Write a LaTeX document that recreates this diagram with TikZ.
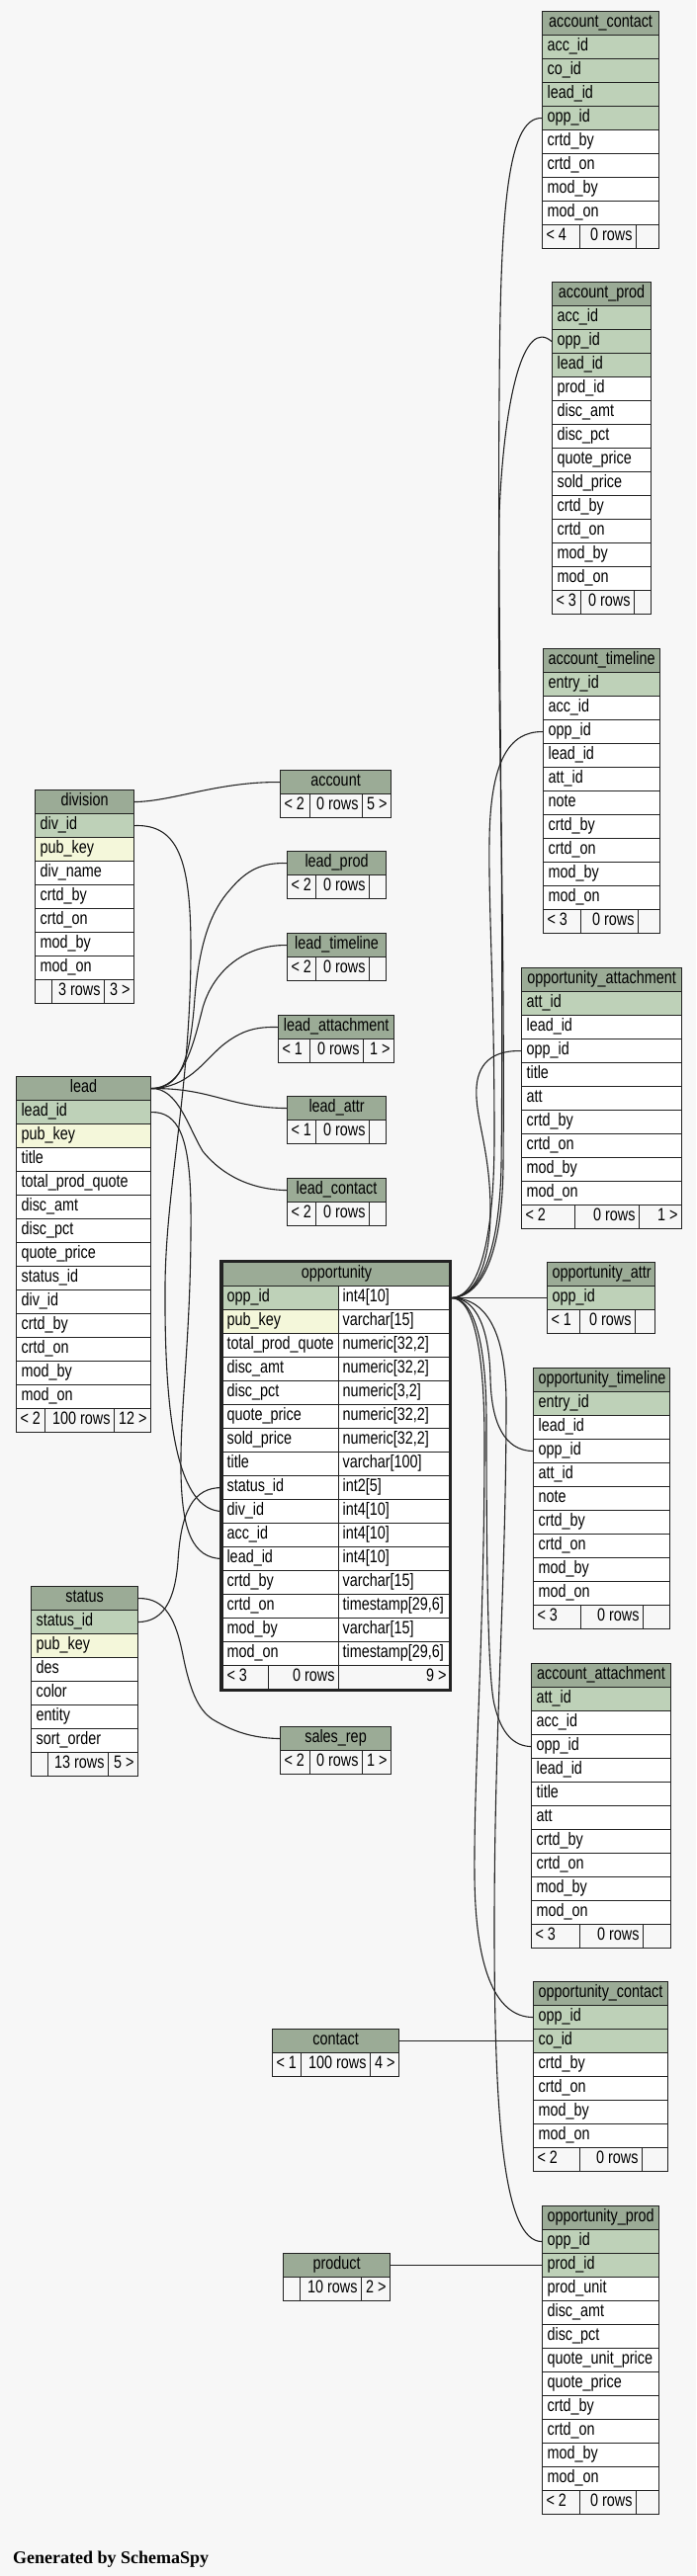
\documentclass[tikz,border=0pt]{standalone}
\usepackage{fontspec}
\setmainfont{Liberation Sans}[FakeStretch=0.8]
\newfontfamily\genfont{Liberation Serif}
\usetikzlibrary{backgrounds}
\definecolor{bgc}{HTML}{F7F7F7}
\definecolor{ttlc}{HTML}{9BAB96}
\definecolor{pkc}{HTML}{BED1B8}
\definecolor{idxc}{HTML}{F4F7DA}
\definecolor{linec}{HTML}{222222}
\newcommand\tfont{\fontsize{18pt}{20pt}\selectfont}
\tikzset{
  cell/.style={draw=linec, line width=1.1pt, rectangle, anchor=north west, inner xsep=5pt, inner ysep=0pt,
    minimum height=24pt, text height=12pt, text depth=5pt, font=\tfont, align=left},
  ttlcell/.style={cell, fill=ttlc, align=center},
  rowpk/.style={cell, fill=pkc},
  rowidx/.style={cell, fill=idxc},
  rowplain/.style={cell, fill=white},
  ftcell/.style={cell, fill=bgc, inner xsep=4pt},
  edge/.style={draw=linec, line width=1.1pt},
}
% #1 name, #2 x, #3 y, #4 width, #5 title, #6 rows
\newcommand\mktable[6]{%
  \pgfmathsetmacro\tw{#4-10}%
  \node[ttlcell, minimum width=#4pt, text width=\tw pt] (#1) at (#2,#3) {#5};
  \foreach \k/\c [count=\i] in {#6} {
    \node[\k, minimum width=#4pt, text width=\tw pt] (#1-\c) at (#2,#3+24*\i) {\c};
  }%
}
\newcommand\mksmall[5]{%
  \pgfmathsetmacro\tw{#4-10}%
  \node[ttlcell, minimum width=#4pt, text width=\tw pt] (#1) at (#2,#3) {#5};
}
% #1 name, #2 y, #3 cells x1/x2/align(l|r)/text
\newcommand\mkfooter[3]{%
  \foreach \xa/\xb/\st/\tx [count=\j] in {#3} {
    \pgfmathsetmacro\fw{\xb-\xa}%
    \pgfmathsetmacro\ftw{\xb-\xa-8}%
    \node[ftcell, minimum width=\fw pt] (#1-f\j) at (\xa,#2) {\makebox[\ftw pt][\st]{\tx}};
  }%
}
\begin{document}
\catcode`\_=12
\begin{tikzpicture}[x=1pt,y=-1pt]
\useasboundingbox (0,0) rectangle (704,2607);

% ---------- right column tables ----------
\mktable{ac}{548}{11}{118}{account_contact}{rowpk/acc_id, rowpk/co_id, rowpk/lead_id, rowpk/opp_id, rowplain/crtd_by, rowplain/crtd_on, rowplain/mod_by, rowplain/mod_on}
\mkfooter{ac}{227}{548/586/l/{< 4}, 586/643/r/{0 rows}, 643/666/r/{}}

\mktable{ap}{558}{285}{100}{account_prod}{rowpk/acc_id, rowpk/opp_id, rowpk/lead_id, rowplain/prod_id, rowplain/disc_amt, rowplain/disc_pct, rowplain/quote_price, rowplain/sold_price, rowplain/crtd_by, rowplain/crtd_on, rowplain/mod_by, rowplain/mod_on}
\mkfooter{ap}{597}{558/587/l/{< 3}, 587/641/r/{0 rows}, 641/658/r/{}}

\mktable{at}{549}{656}{118}{account_timeline}{rowpk/entry_id, rowplain/acc_id, rowplain/opp_id, rowplain/lead_id, rowplain/att_id, rowplain/note, rowplain/crtd_by, rowplain/crtd_on, rowplain/mod_by, rowplain/mod_on}
\mkfooter{at}{920}{549/587/l/{< 3}, 587/645/r/{0 rows}, 645/667/r/{}}

\mktable{oa}{527}{979}{162}{opportunity_attachment}{rowpk/att_id, rowplain/lead_id, rowplain/opp_id, rowplain/title, rowplain/att, rowplain/crtd_by, rowplain/crtd_on, rowplain/mod_by, rowplain/mod_on}
\mkfooter{oa}{1219}{527/581/l/{< 2}, 581/646/r/{0 rows}, 646/689/r/{1 >}}

\mktable{oat}{553}{1277}{109}{opportunity_attr}{rowpk/opp_id}
\mkfooter{oat}{1325}{553/586/l/{< 1}, 586/642/r/{0 rows}, 642/662/r/{}}

\mktable{ot}{539}{1384}{138}{opportunity_timeline}{rowpk/entry_id, rowplain/lead_id, rowplain/opp_id, rowplain/att_id, rowplain/note, rowplain/crtd_by, rowplain/crtd_on, rowplain/mod_by, rowplain/mod_on}
\mkfooter{ot}{1624}{539/587/l/{< 3}, 587/650/r/{0 rows}, 650/677/r/{}}

\mktable{aa}{537}{1683}{141}{account_attachment}{rowpk/att_id, rowplain/acc_id, rowplain/opp_id, rowplain/lead_id, rowplain/title, rowplain/att, rowplain/crtd_by, rowplain/crtd_on, rowplain/mod_by, rowplain/mod_on}
\mkfooter{aa}{1947}{537/586/l/{< 3}, 586/650/r/{0 rows}, 650/678/r/{}}

\mktable{oc}{539}{2005}{136}{opportunity_contact}{rowpk/opp_id, rowpk/co_id, rowplain/crtd_by, rowplain/crtd_on, rowplain/mod_by, rowplain/mod_on}
\mkfooter{oc}{2173}{539/586/l/{< 2}, 586/649/r/{0 rows}, 649/675/r/{}}

\mktable{op}{548}{2232}{118}{opportunity_prod}{rowpk/opp_id, rowpk/prod_id, rowplain/prod_unit, rowplain/disc_amt, rowplain/disc_pct, rowplain/quote_unit_price, rowplain/quote_price, rowplain/crtd_by, rowplain/crtd_on, rowplain/mod_by, rowplain/mod_on}
\mkfooter{op}{2520}{548/586/l/{< 2}, 586/643/r/{0 rows}, 643/666/r/{}}

% ---------- left column tables ----------
\mktable{div}{35}{799}{100}{division}{rowpk/div_id, rowidx/pub_key, rowplain/div_name, rowplain/crtd_by, rowplain/crtd_on, rowplain/mod_by, rowplain/mod_on}
\mkfooter{div}{991}{35/52/l/{}, 52/105/r/{3 rows}, 105/135/r/{3 >}}

\mktable{lead}{16}{1089}{136}{lead}{rowpk/lead_id, rowidx/pub_key, rowplain/title, rowplain/total_prod_quote, rowplain/disc_amt, rowplain/disc_pct, rowplain/quote_price, rowplain/status_id, rowplain/div_id, rowplain/crtd_by, rowplain/crtd_on, rowplain/mod_by, rowplain/mod_on}
\mkfooter{lead}{1425}{16/45/l/{< 2}, 45/115/r/{100 rows}, 115/152/r/{12 >}}

\mktable{status}{31}{1605}{108}{status}{rowpk/status_id, rowidx/pub_key, rowplain/des, rowplain/color, rowplain/entity, rowplain/sort_order}
\mkfooter{status}{1773}{31/48/l/{}, 48/109/r/{13 rows}, 109/139/r/{5 >}}

% ---------- compact tables ----------
\mksmall{acct}{283}{779}{112}{account}
\mkfooter{acct}{803}{283/313/l/{< 2}, 313/366/r/{0 rows}, 366/395/r/{5 >}}
\mksmall{lprod}{290}{861}{100}{lead_prod}
\mkfooter{lprod}{885}{290/319/l/{< 2}, 319/373/r/{0 rows}, 373/390/r/{}}
\mksmall{ltime}{290}{944}{100}{lead_timeline}
\mkfooter{ltime}{968}{290/319/l/{< 2}, 319/373/r/{0 rows}, 373/390/r/{}}
\mksmall{latt}{281}{1027}{117}{lead_attachment}
\mkfooter{latt}{1051}{281/313/l/{< 1}, 313/367/r/{0 rows}, 367/398/r/{1 >}}
\mksmall{lattr}{290}{1109}{100}{lead_attr}
\mkfooter{lattr}{1133}{290/319/l/{< 1}, 319/373/r/{0 rows}, 373/390/r/{}}
\mksmall{lcont}{290}{1192}{100}{lead_contact}
\mkfooter{lcont}{1216}{290/319/l/{< 2}, 319/373/r/{0 rows}, 373/390/r/{}}
\mksmall{srep}{283}{1747}{112}{sales_rep}
\mkfooter{srep}{1771}{283/313/l/{< 2}, 313/366/r/{0 rows}, 366/395/r/{1 >}}
\mksmall{contact}{275}{2053}{128}{contact}
\mkfooter{contact}{2077}{275/304/l/{< 1}, 304/374/r/{100 rows}, 374/403/r/{4 >}}
\mksmall{product}{286}{2280}{108}{product}
\mkfooter{product}{2304}{286/303/l/{}, 303/365/r/{10 rows}, 365/394/r/{2 >}}

% ---------- opportunity ----------
\node[ttlcell, minimum width=230pt, text width=220pt] (opp) at (225,1277) {opportunity};
\foreach \k/\c/\t [count=\i] in {rowpk/opp_id/{int4[10]}, rowidx/pub_key/{varchar[15]}, rowplain/total_prod_quote/{numeric[32,2]}, rowplain/disc_amt/{numeric[32,2]}, rowplain/disc_pct/{numeric[3,2]}, rowplain/quote_price/{numeric[32,2]}, rowplain/sold_price/{numeric[32,2]}, rowplain/title/{varchar[100]}, rowplain/status_id/{int2[5]}, rowplain/div_id/{int4[10]}, rowplain/acc_id/{int4[10]}, rowplain/lead_id/{int4[10]}, rowplain/crtd_by/{varchar[15]}, rowplain/crtd_on/{timestamp[29,6]}, rowplain/mod_by/{varchar[15]}, rowplain/mod_on/{timestamp[29,6]}} {
  \node[\k, inner xsep=4pt, minimum width=117pt, text width=109pt] (opp-\c) at (225,1277+24*\i) {\c};
  \node[rowplain, inner xsep=4pt, minimum width=113pt, text width=105pt] (oppT-\c) at (342,1277+24*\i) {\t};
}
\mkfooter{opp}{1685}{225/271/l/{< 3}, 271/342/r/{0 rows}, 342/455/r/{9 >}}
\draw[draw=linec, line width=3pt] (223.5,1276) rectangle (455.8,1710);

\node[anchor=west, inner sep=0pt, font=\genfont\fontsize{18pt}{20pt}\selectfont\bfseries] (gen) at (13,2590) {Generated by SchemaSpy};

% ---------- connectors ----------
\begin{pgfonlayer}{background}
\fill[bgc] (0,0) rectangle (704,2607);
% division
\draw[edge] (div.east) .. controls (175,811) and (220,791) .. (acct.west);
\draw[edge] (div-div_id.east) .. controls (180,834) and (193,870) .. (193,960)
  .. controls (193,1100) and (168,1200) .. (167,1300)
  .. controls (166,1440) and (180,1529) .. (opp-div_id.west);
% lead
\draw[edge] (lead.east) .. controls (180,1101) and (192,1080) .. (197,1010)
  .. controls (202,950) and (215,920) .. (233,900)
  .. controls (250,880) and (265,873) .. (lprod.west);
\draw[edge] (lead.east) .. controls (185,1101) and (195,1060) .. (205,1020)
  .. controls (215,985) and (245,956) .. (ltime.west);
\draw[edge] (lead.east) .. controls (190,1101) and (205,1075) .. (225,1058)
  .. controls (245,1042) and (260,1039) .. (latt.west);
\draw[edge] (lead.east) .. controls (215,1101) and (230,1121) .. (lattr.west);
\draw[edge] (lead.east) .. controls (180,1101) and (190,1140) .. (205,1165)
  .. controls (225,1190) and (255,1204) .. (lcont.west);
\draw[edge] (lead-lead_id.east) .. controls (180,1125) and (192,1150) .. (193,1220)
  .. controls (194,1350) and (182,1420) .. (183,1490)
  .. controls (184,1550) and (195,1577) .. (opp-lead_id.west);
% status
\draw[edge] (status-status_id.east) .. controls (165,1641) and (177,1620) .. (180,1580)
  .. controls (183,1530) and (195,1505) .. (opp-status_id.west);
\draw[edge] (status.east) .. controls (168,1617) and (178,1640) .. (185,1675)
  .. controls (192,1710) and (200,1730) .. (215,1740)
  .. controls (240,1755) and (260,1759) .. (srep.west);
% opportunity children
\draw[edge] (oppT-opp_id.east) .. controls (485,1313) and (505,1270) .. (507,1180)
  .. controls (510,900) and (503,600) .. (505,400)
  .. controls (506,220) and (512,118) .. (ac-opp_id.west);
\draw[edge] (oppT-opp_id.east) .. controls (487,1313) and (508,1270) .. (509,1180)
  .. controls (511,900) and (502,700) .. (505,520)
  .. controls (510,400) and (530,321) .. (ap-opp_id.west);
\draw[edge] (oppT-opp_id.east) .. controls (483,1313) and (500,1260) .. (500,1150)
  .. controls (500,1000) and (494,920) .. (495,850)
  .. controls (496,770) and (515,740) .. (at-opp_id.west);
\draw[edge] (oppT-opp_id.east) .. controls (480,1313) and (497,1280) .. (496,1220)
  .. controls (495,1160) and (480,1130) .. (482,1100)
  .. controls (484,1072) and (503,1063) .. (oa-opp_id.west);
\draw[edge] (oppT-opp_id.east) -- (oat-opp_id.west);
\draw[edge] (oppT-opp_id.east) .. controls (482,1313) and (495,1345) .. (496,1395)
  .. controls (497,1440) and (510,1468) .. (ot-opp_id.west);
\draw[edge] (oppT-opp_id.east) .. controls (480,1313) and (492,1360) .. (492,1440)
  .. controls (492,1600) and (494,1700) .. (500,1725)
  .. controls (507,1755) and (520,1767) .. (aa-opp_id.west);
\draw[edge] (oppT-opp_id.east) .. controls (480,1313) and (490,1370) .. (490,1460)
  .. controls (490,1650) and (479,1800) .. (480,1900)
  .. controls (481,1990) and (500,2041) .. (oc-opp_id.west);
\draw[edge] (oppT-opp_id.east) .. controls (490,1313) and (512,1345) .. (512,1420)
  .. controls (512,1600) and (500,1750) .. (500,1950)
  .. controls (500,2150) and (510,2268) .. (op-opp_id.west);
% contact, product
\draw[edge] (contact.east) -- (oc-co_id.west);
\draw[edge] (product.east) -- (op-prod_id.west);
\end{pgfonlayer}
\end{tikzpicture}
\end{document}
